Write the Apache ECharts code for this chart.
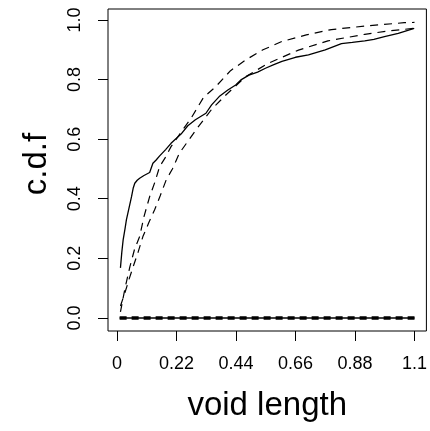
<!DOCTYPE html>
<html>
<head>
<meta charset="utf-8">
<script src="https://cdn.jsdelivr.net/npm/echarts@6/dist/echarts.min.js"></script>
<style>
  html, body { margin: 0; padding: 0; background: #fff; }
  #main { width: 430px; height: 431px; }
</style>
</head>
<body>
<div id="main"></div>
<script>
// observed c.d.f of void length (solid)
var obsX = [0.013, 0.018, 0.023, 0.03, 0.035, 0.045, 0.054, 0.06, 0.066, 0.075, 0.084, 0.1, 0.121, 0.133, 0.145, 0.158, 0.18, 0.2, 0.219, 0.237, 0.262, 0.29, 0.329, 0.35, 0.378, 0.41, 0.439, 0.46, 0.488, 0.52, 0.549, 0.58, 0.61, 0.66, 0.708, 0.77, 0.83, 0.87, 0.916, 0.95, 0.989, 1.04, 1.099];
var obsY = [0.168, 0.22, 0.262, 0.3, 0.329, 0.37, 0.407, 0.435, 0.452, 0.462, 0.469, 0.478, 0.488, 0.519, 0.53, 0.544, 0.565, 0.586, 0.602, 0.617, 0.645, 0.665, 0.687, 0.715, 0.743, 0.765, 0.782, 0.8, 0.815, 0.825, 0.838, 0.85, 0.861, 0.875, 0.883, 0.9, 0.921, 0.925, 0.93, 0.935, 0.944, 0.955, 0.972];

// upper envelope (dashed)
var upX = [0.013, 0.03, 0.048, 0.065, 0.084, 0.1, 0.121, 0.14, 0.158, 0.18, 0.2, 0.243, 0.274, 0.32, 0.366, 0.42, 0.476, 0.54, 0.61, 0.7, 0.793, 0.92, 1.062, 1.1];
var upY = [0.02, 0.1, 0.172, 0.23, 0.273, 0.34, 0.407, 0.455, 0.508, 0.54, 0.575, 0.631, 0.67, 0.74, 0.777, 0.83, 0.866, 0.9, 0.928, 0.95, 0.968, 0.98, 0.991, 0.992];

// lower envelope (dashed)
var loX = [0.013, 0.029, 0.045, 0.06, 0.078, 0.096, 0.118, 0.139, 0.16, 0.182, 0.205, 0.231, 0.26, 0.292, 0.35, 0.4, 0.476, 0.56, 0.671, 0.78, 0.916, 1.0, 1.099];
var loY = [0.04, 0.083, 0.13, 0.172, 0.22, 0.273, 0.32, 0.362, 0.41, 0.463, 0.5, 0.553, 0.59, 0.631, 0.7, 0.746, 0.81, 0.855, 0.899, 0.93, 0.952, 0.963, 0.972];

// flat lines along zero
var zeroX = [0.01, 1.1];
var zeroY = [0, 0];

var xTicks = [0, 0.22, 0.44, 0.66, 0.88, 1.1];
var yTicks = [0, 0.2, 0.4, 0.6, 0.8, 1.0];

function pairs(xs, ys) {
    return xs.map(function (x, i) { return [x, ys[i]]; });
}

var font = 'Liberation Sans, Arial, Helvetica, sans-serif';
var chart = echarts.init(document.getElementById('main'), null, { renderer: 'canvas' });

chart.setOption({
    animation: false,
    backgroundColor: '#fff',
    grid: {
        left: 108, right: 1, top: 9, bottom: 100,
        show: true, borderColor: '#000', borderWidth: 1, backgroundColor: 'transparent'
    },
    xAxis: {
        type: 'value',
        min: -0.033, max: 1.144,
        name: 'void length',
        nameLocation: 'middle',
        nameGap: 58,
        nameTextStyle: { fontSize: 33, color: '#000', fontFamily: font },
        axisLine: { show: false, onZero: false },
        splitLine: { show: false },
        axisTick: { show: true, inside: false, length: 10, customValues: xTicks, lineStyle: { color: '#000', width: 1 } },
        axisLabel: {
            customValues: xTicks, margin: 24, fontSize: 18, color: '#000', fontFamily: font,
            formatter: function (v) { return String(v); }
        }
    },
    yAxis: {
        type: 'value',
        min: -0.044, max: 1.037,
        name: 'c.d.f',
        nameLocation: 'middle',
        nameGap: 55,
        nameTextStyle: { fontSize: 33, color: '#000', fontFamily: font, padding: [0, 0, 0, 12] },
        axisLine: { show: false, onZero: false },
        splitLine: { show: false },
        axisTick: { show: true, inside: false, length: 10, customValues: yTicks, lineStyle: { color: '#000', width: 1 } },
        axisLabel: {
            customValues: yTicks, rotate: 90, margin: 24, fontSize: 18, color: '#000', fontFamily: font,
            formatter: function (v) { return v.toFixed(1); }
        }
    },
    series: [
        {
            type: 'line', data: pairs(obsX, obsY), showSymbol: false,
            lineStyle: { color: '#000', width: 1.3, type: 'solid' }
        },
        {
            type: 'line', data: pairs(upX, upY), showSymbol: false,
            lineStyle: { color: '#000', width: 1.2, type: [8, 6] }
        },
        {
            type: 'line', data: pairs(loX, loY), showSymbol: false,
            lineStyle: { color: '#000', width: 1.2, type: [8, 6] }
        },
        {
            type: 'line', data: pairs(zeroX, zeroY), showSymbol: false,
            lineStyle: { color: '#000', width: 1.5, type: 'solid' }
        },
        {
            type: 'line', data: pairs(zeroX, zeroY), showSymbol: false,
            lineStyle: { color: '#000', width: 3.5, type: [7, 5] }
        }
    ]
});
</script>
</body>
</html>
